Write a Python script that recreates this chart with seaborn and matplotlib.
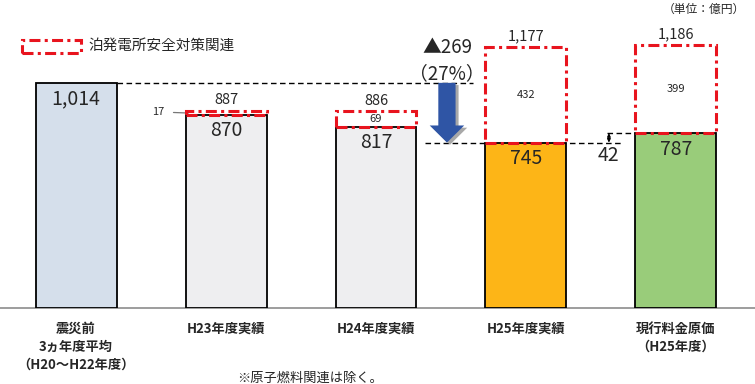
import numpy as np
import pandas as pd
import seaborn as sns
import matplotlib.pyplot as plt
from matplotlib.patches import Rectangle, FancyArrow

# data (億円)
categories = ["震災前\n3ヵ年度平均\n（H20～H22年度）", "H23年度実績", "H24年度実績",
              "H25年度実績", "現行料金原価\n（H25年度）"]
base_values = [1014, 870, 817, 745, 787]
safety_values = [0, 17, 69, 432, 399]
base_labels = ["1,014", "870", "817", "745", "787"]
total_labels = ["", "887", "886", "1,177", "1,186"]
bar_colors = ["#D5DFEB", "#EEEEF0", "#EEEEF0", "#FDB517", "#99CC7A"]
reduction_label = "▲269\n（27%）"
diff_label = "42"

sns.set_theme(style="white")
plt.rcParams['font.family'] = ['Noto Sans CJK JP', 'DejaVu Sans']

df = pd.DataFrame({"cat": categories, "base": base_values, "safety": safety_values})
df["total"] = df["base"] + df["safety"]

fig = plt.figure(figsize=(7.55, 3.84), dpi=100)
ax = fig.add_axes([0, 0.198, 1, 0.7516])

bw = 0.54
sns.barplot(data=df, x="cat", y="base", hue="cat", palette=bar_colors, width=bw,
            edgecolor="black", linewidth=1.3, legend=False, ax=ax, saturation=1, zorder=3)

red = "#E8141E"
dash = (0, (3.6, 1.4, 1.0, 1.4))
for i, row in df.iterrows():
    if row["safety"] > 0:
        ax.add_patch(Rectangle((i - bw / 2, row["base"]), bw, row["safety"], fill=False,
                               edgecolor=red, linewidth=2.2, linestyle=dash, zorder=4))

# value labels
for i, row in df.iterrows():
    ax.text(i, row["base"] - 72, base_labels[i], ha="center", va="center", fontsize=14, zorder=5)
    if row["safety"] > 0:
        ax.text(i, row["total"] + 48, total_labels[i], ha="center", va="center", fontsize=10.5, zorder=5)
        if row["safety"] > 30:
            ax.text(i, row["base"] + row["safety"] / 2, str(row["safety"]), ha="center",
                    va="center", fontsize=8, zorder=5)

# small safety value on H23
ax.annotate(str(safety_values[1]), xy=(1 - bw / 2 + 0.02, 878), xytext=(0.55, 883),
            ha="center", va="center", fontsize=8,
            arrowprops=dict(arrowstyle="-", color="#777777", lw=0.9, shrinkA=4, shrinkB=0))

# dashed guide lines
ax.plot([0 + bw / 2, 2.65], [base_values[0]] * 2, ls=(0, (4, 2.5)), color="black", lw=1, zorder=2)
ax.plot([2.33, 3.65], [base_values[3]] * 2, ls=(0, (4, 2.5)), color="black", lw=1, zorder=2)
ax.plot([3.54, 4 - bw / 2], [base_values[4]] * 2, ls=(0, (4, 2.5)), color="black", lw=1, zorder=2)

# reduction arrow
ax_x = 2.473
for dx, dy, c, z in [(0.02, -10, "#A8A8A8", 5), (0, 0, "#2F55A5", 6)]:
    ax.add_patch(FancyArrow(ax_x + dx, base_values[0] + dy, 0, base_values[3] - base_values[0],
                            width=0.115, head_width=0.23, head_length=77,
                            length_includes_head=True, color=c, zorder=z, lw=0))
ax.text(ax_x, 1115, reduction_label, ha="center", va="center", fontsize=13.5, linespacing=1.3)

# difference marker
ax.annotate("", xy=(3.553, base_values[4]), xytext=(3.553, base_values[3]),
            arrowprops=dict(arrowstyle="<|-|>", color="black", lw=0.8, mutation_scale=5,
                            shrinkA=0, shrinkB=0))
ax.text(3.553, 689, diff_label, ha="center", va="center", fontsize=14)

ax.set_xlim(-0.507, 4.527)
ax.set_ylim(0, 1300)
ax.set_xlabel("")
ax.set_ylabel("")
ax.set_yticks([])
ax.set_xticks(range(len(categories)))
ax.set_xticklabels(categories, fontsize=9.5, fontweight="bold", linespacing=1.35, va="top")
ax.tick_params(axis="x", length=0, pad=10)
for s in ["top", "left", "right"]:
    ax.spines[s].set_visible(False)
ax.spines["bottom"].set_color("#8C8C8C")
ax.spines["bottom"].set_linewidth(1.2)

# legend and notes
fig.patches.append(Rectangle((22 / 755, 1 - 53 / 384), 59 / 755, 13 / 384, fill=False,
                             edgecolor=red, linewidth=2.2, linestyle=dash,
                             transform=fig.transFigure, figure=fig))
fig.text(88 / 755, 1 - 46 / 384, "泊発電所安全対策関連", ha="left", va="center", fontsize=10.5)
fig.text(745 / 755, 1 - 9 / 384, "（単位：億円）", ha="right", va="center", fontsize=8.5)
fig.text(310 / 755, 1 - 378 / 384, "※原子燃料関連は除く。", ha="center", va="center", fontsize=9.5)

fig.savefig("out.png", dpi=100)
